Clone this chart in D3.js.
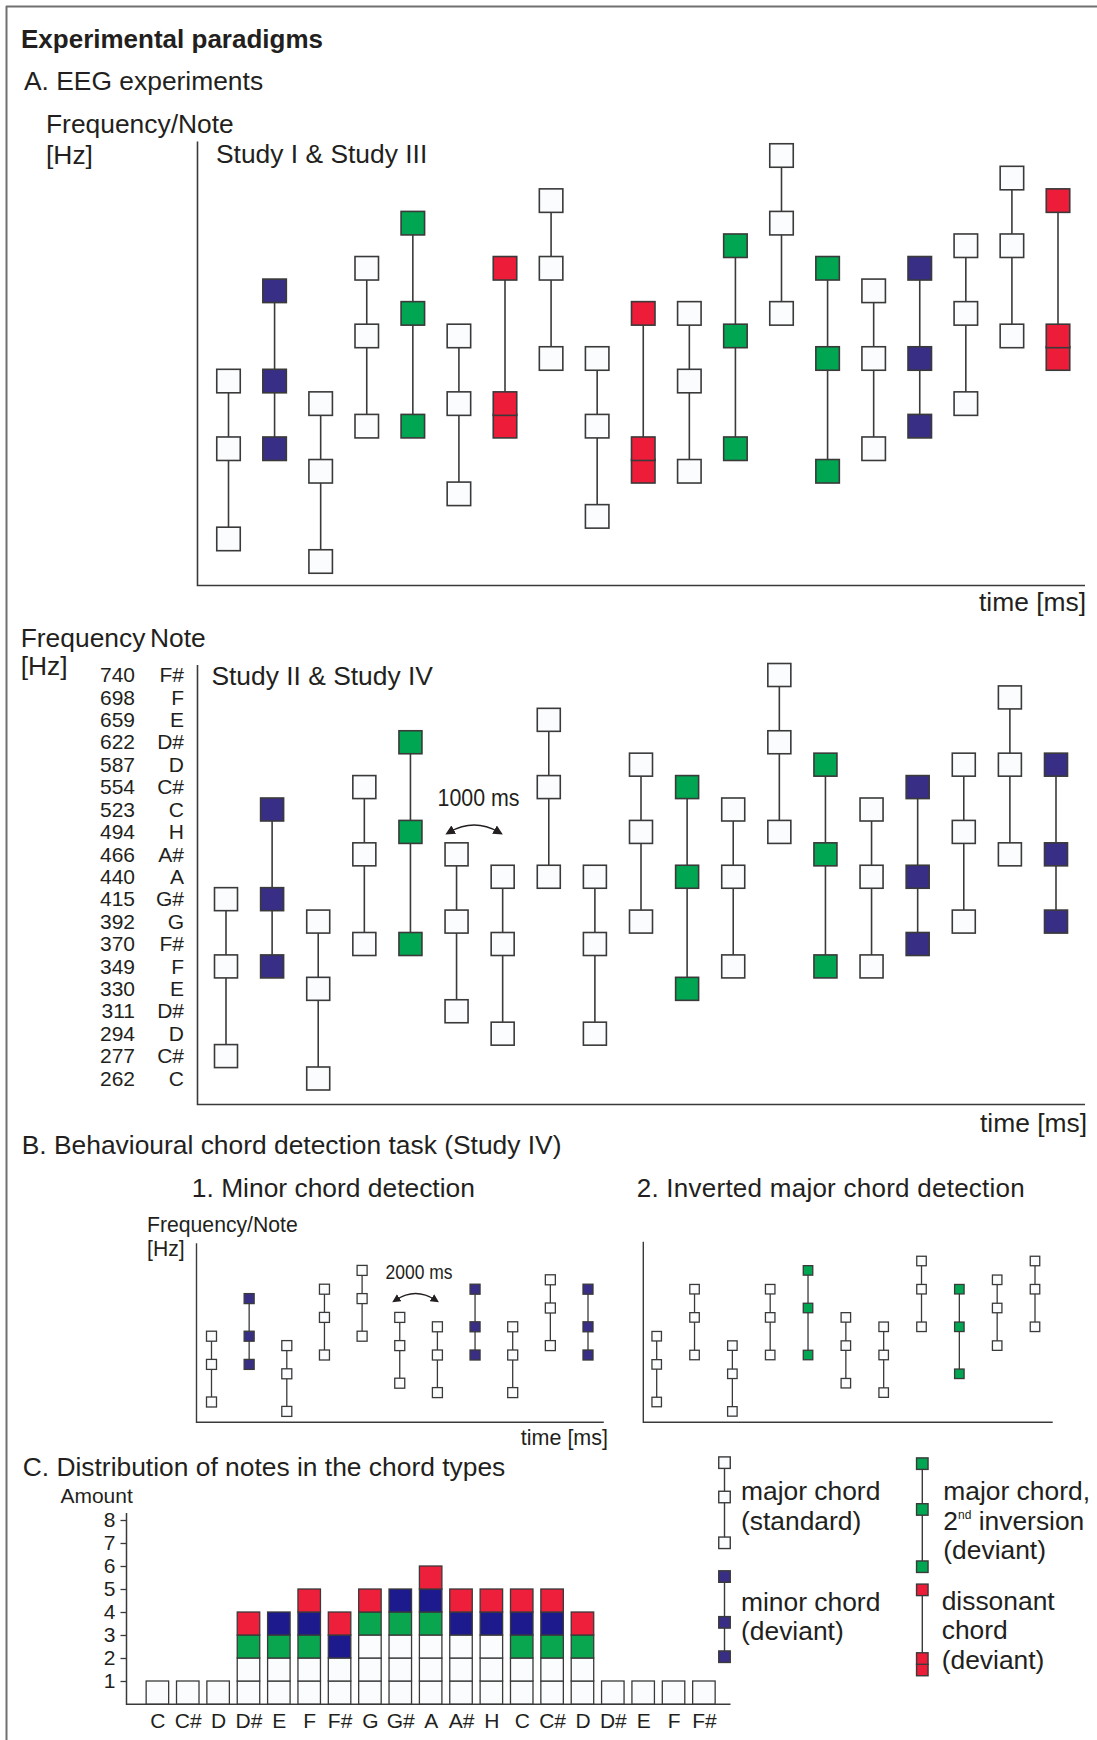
<!DOCTYPE html>
<html>
<head>
<meta charset="utf-8">
<script src="https://cdn.jsdelivr.net/npm/d3@7"></script>
<style>
  body { margin: 0; background: #fff; }
  svg text { font-family: "Liberation Sans", Arial, Helvetica, sans-serif; fill: #231f20; }
</style>
</head>
<body>
<svg id="fig" width="1097" height="1740"></svg>
<script>
// ---- pitch axis (semitone index 0 = C 262 Hz) ----
const noteNames   = ["C","C#","D","D#","E","F","F#","G","G#","A","A#","H","C","C#","D","D#","E","F","F#"];
const frequencies = [262,277,294,311,330,349,370,392,415,440,466,494,523,554,587,622,659,698,740];

// ---- chord sequences: semitone indices per chord, plus chord type ----
const studyI_notes = [[1,5,8],[5,8,12],[0,4,7],[6,10,13],[6,11,15],[3,7,10],[6,7,13],[9,13,16],[2,6,9],[4,5,11],
                      [4,8,11],[5,10,14],[11,15,18],[4,9,13],[5,9,12],[6,9,13],[7,11,14],[10,14,17],[9,10,16]];
const studyI_types = ["major","minor","major","major","inversion","major","dissonant","major","major","dissonant",
                      "major","inversion","major","inversion","major","minor","major","major","dissonant"];

const studyII_notes = [[1,5,8],[5,8,12],[0,4,7],[6,10,13],[6,11,15],[3,7,10],[2,6,9],[9,13,16],[2,6,9],[7,11,14],
                       [4,9,13],[5,9,12],[11,15,18],[5,10,14],[5,9,12],[6,9,13],[7,11,14],[10,14,17],[7,10,14]];
const studyII_types = ["major","minor","major","major","inversion","major","major","major","major","major",
                       "inversion","major","major","inversion","major","minor","major","major","minor"];

const minorTask_notes = [[1,5,8],[5,8,12],[0,4,7],[6,10,13],[8,12,15],[3,7,10],[2,6,9],[6,9,13],[2,6,9],[7,11,14],[6,9,13]];
const minorTask_types = ["major","minor","major","major","major","major","major","minor","major","major","minor"];

const invTask_notes = [[1,5,8],[6,10,13],[0,4,7],[6,10,13],[6,11,15],[3,7,10],[2,6,9],[9,13,16],[4,9,13],[7,11,14],[9,13,16]];
const invTask_types = ["major","major","major","major","inversion","major","major","major","inversion","major","major"];

// ---- distribution of notes per chord type ----
const distNotes       = ["C","C#","D","D#","E","F","F#","G","G#","A","A#","H","C","C#","D","D#","E","F","F#"];
const countMajor      = [1,1,1,2,2,2,2,3,3,3,3,3,2,2,2,1,1,1,1];
const countInversion  = [0,0,0,1,1,1,0,1,1,1,0,0,1,1,1,0,0,0,0];
const countMinor      = [0,0,0,0,1,1,1,0,1,1,1,1,1,1,0,0,0,0,0];
const countDissonant  = [0,0,0,1,0,1,1,1,0,1,1,1,1,1,1,0,0,0,0];
const amountTicks     = [1,2,3,4,5,6,7,8];

// ---- legend entries (semitone offsets within a chord) ----
const legendChords = [
  { type: "major",     notes: [0,4,7], lines: ["major chord", "(standard)"] },
  { type: "minor",     notes: [0,3,7], lines: ["minor chord", "(deviant)"] },
  { type: "inversion", notes: [0,5,9], lines: ["major chord,", "2nd inversion", "(deviant)"] },
  { type: "dissonant", notes: [0,1,7], lines: ["dissonant", "chord", "(deviant)"] }
];

const fillOf = { major: "#fafcfd", minor: "#382e86", inversion: "#00a651", dissonant: "#ed1c38" };
const barFill = { major: "#fafcfd", inversion: "#0aa64f", minor: "#1c1a8c", dissonant: "#ee1f3b" };
const ink = "#3a3a3a";
const FS = 26.4;   // body text size used across the panels

const svg = d3.select("#fig");

// outer frame (top and left rules)
svg.append("line").attr("x1", 6).attr("y1", 6.5).attr("x2", 1097).attr("y2", 6.5)
   .attr("stroke", "#707070").attr("stroke-width", 2);
svg.append("line").attr("x1", 6.5).attr("y1", 6).attr("x2", 6.5).attr("y2", 1740)
   .attr("stroke", "#707070").attr("stroke-width", 2);

function text(x, y, str, size, opts = {}) {
  const t = svg.append("text").attr("x", x).attr("y", y).attr("font-size", size).text(str);
  if (opts.weight) t.attr("font-weight", opts.weight);
  if (opts.anchor) t.attr("text-anchor", opts.anchor);
  if (opts.ls) t.attr("letter-spacing", opts.ls);
  if (opts.len) t.attr("textLength", opts.len).attr("lengthAdjust", "spacingAndGlyphs");
  return t;
}

// L-shaped axis frame
function frame(x0, yTop, yBottom, xRight, w) {
  svg.append("path")
     .attr("d", d3.line()([[x0, yTop], [x0, yBottom], [xRight, yBottom]]))
     .attr("fill", "none").attr("stroke", ink).attr("stroke-width", w);
}

// chord glyphs: vertical connector + one square per note
function drawChords(notes, types, x, y, size, lw) {
  const data = notes.map((n, i) => ({ notes: n, type: types[i], i }));
  const g = svg.append("g");
  const cg = g.selectAll("g").data(data).join("g");
  cg.append("line")
    .attr("x1", d => x(d.i)).attr("x2", d => x(d.i))
    .attr("y1", d => y(d3.min(d.notes))).attr("y2", d => y(d3.max(d.notes)))
    .attr("stroke", ink).attr("stroke-width", lw);
  cg.selectAll("rect").data(d => d.notes.map(n => ({ n, i: d.i, type: d.type }))).join("rect")
    .attr("x", d => x(d.i) - size / 2).attr("y", d => y(d.n) - size / 2)
    .attr("width", size).attr("height", size)
    .attr("fill", d => fillOf[d.type]).attr("stroke", ink).attr("stroke-width", lw);
}

// arrow markers for the inter-onset interval brackets
const defs = svg.append("defs");
defs.append("marker").attr("id", "tip").attr("viewBox", "0 0 10 10")
    .attr("refX", 5).attr("refY", 5).attr("markerWidth", 6).attr("markerHeight", 6)
    .attr("orient", "auto-start-reverse")
    .append("path").attr("d", "M0,0 L10,5 L0,10 z").attr("fill", "#231f20");

function intervalArc(xa, xb, yEnd, rise, w) {
  const xm = (xa + xb) / 2;
  svg.append("path")
     .attr("d", `M${xa},${yEnd} Q${xm},${yEnd - rise} ${xb},${yEnd}`)
     .attr("fill", "none").attr("stroke", "#231f20").attr("stroke-width", w)
     .attr("marker-start", "url(#tip)").attr("marker-end", "url(#tip)");
}

// ================= headings =================
text(21, 47.5, "Experimental paradigms", 26, { weight: "bold" });
text(24, 90, "A. EEG experiments", FS);

// ================= A1: Study I & Study III =================
text(46, 133, "Frequency/Note", FS);
text(46, 163.5, "[Hz]", FS);
text(216, 162.6, "Study I & Study III", FS);
frame(197.5, 141.6, 585.5, 1085, 1.6);
text(1086, 611, "time [ms]", FS, { anchor: "end" });

const xA1 = d3.scaleLinear().domain([0, 18]).range([228.5, 1058]);
const yA1 = d3.scaleLinear().domain([0, 18]).range([561.5, 155.5]);
drawChords(studyI_notes, studyI_types, xA1, yA1, 23.5, 1.6);

// ================= A2: Study II & Study IV =================
text(20.7, 646.5, "Frequency", FS);
text(150, 646.5, "Note", FS);
text(20.7, 674.5, "[Hz]", FS);
text(211.4, 684.6, "Study II & Study IV", FS);
frame(197.5, 665, 1104.5, 1085, 1.6);
text(1087, 1131.5, "time [ms]", FS, { anchor: "end" });

const xA2 = d3.scaleLinear().domain([0, 18]).range([226, 1056]);
const yA2 = d3.scaleLinear().domain([0, 18]).range([1078.5, 675]);

// pitch labels: frequency and note name columns
const freqAxis = d3.axisLeft(yA2).tickValues(d3.range(19)).tickFormat(i => frequencies[i]).tickSize(0).tickPadding(0);
svg.append("g").attr("transform", "translate(135,0)").call(freqAxis)
   .call(g => g.select(".domain").remove())
   .call(g => g.selectAll("text").attr("font-size", 21).attr("font-family", null).attr("fill", "#231f20"));
const noteAxis = d3.axisLeft(yA2).tickValues(d3.range(19)).tickFormat(i => noteNames[i]).tickSize(0).tickPadding(0);
svg.append("g").attr("transform", "translate(184,0)").call(noteAxis)
   .call(g => g.select(".domain").remove())
   .call(g => g.selectAll("text").attr("font-size", 21).attr("font-family", null).attr("fill", "#231f20"));

drawChords(studyII_notes, studyII_types, xA2, yA2, 23, 1.6);
text(437.5, 805.6, "1000 ms", 24, { len: 82 });
intervalArc(xA2(5) - 7, xA2(6) - 4, 832, 14, 1.6);

// ================= B: behavioural tasks =================
text(21.7, 1154, "B. Behavioural chord detection task (Study IV)", FS);
text(191.8, 1197, "1. Minor chord detection", FS);
text(636.7, 1197, "2. Inverted major chord detection", 26, { ls: 0.25 });

const yB = d3.scaleLinear().domain([0, 15]).range([1411.4, 1270.4]);

// B1
text(147, 1231.7, "Frequency/Note", 21.2);
text(147, 1256, "[Hz]", 21.2);
frame(196.5, 1243.3, 1422.3, 603.8, 1.4);
const xB1 = d3.scaleLinear().domain([0, 10]).range([211.5, 588]);
drawChords(minorTask_notes, minorTask_types, xB1, yB, 10, 1.3);
text(385.5, 1279, "2000 ms", 20, { len: 67 });
intervalArc(xB1(5) - 4, xB1(6) - 2, 1300, 13, 1.4);
text(608, 1445, "time [ms]", 21.5, { anchor: "end" });

// B2
frame(643.3, 1241.7, 1422.3, 1052.7, 1.4);
const xB2 = d3.scaleLinear().domain([0, 10]).range([656.7, 1035]);
drawChords(invTask_notes, invTask_types, xB2, yB, 9.5, 1.3);

// ================= C: distribution of notes =================
text(22.7, 1476, "C. Distribution of notes in the chord types", FS);
text(60.4, 1503, "Amount", 21);

const xC = d3.scalePoint().domain(d3.range(distNotes.length)).range([157.4, 703.9]);
const yC = d3.scaleLinear().domain([0, 8]).range([1704, 1520]);
const barW = 22.5;

frame(126.5, 1513, 1704.3, 730.5, 1.5);
const yAxisC = d3.axisLeft(yC).tickValues(amountTicks).tickSize(6).tickSizeOuter(0).tickPadding(5);
svg.append("g").attr("transform", "translate(126.5,0)").call(yAxisC)
   .call(g => g.select(".domain").remove())
   .call(g => g.selectAll("line").attr("stroke", ink).attr("stroke-width", 1.3))
   .call(g => g.selectAll("text").attr("font-size", 21).attr("font-family", null).attr("fill", "#231f20"));

const xAxisC = d3.axisBottom(xC).tickFormat(i => distNotes[i]).tickSize(0).tickPadding(9);
svg.append("g").attr("transform", "translate(0,1704.3)").call(xAxisC)
   .call(g => g.select(".domain").remove())
   .call(g => g.selectAll("text").attr("font-size", 21).attr("font-family", null).attr("fill", "#231f20"));

const stackKeys = ["major", "inversion", "minor", "dissonant"];
const rows = distNotes.map((n, i) => ({ i, major: countMajor[i], inversion: countInversion[i], minor: countMinor[i], dissonant: countDissonant[i] }));
const series = d3.stack().keys(stackKeys)(rows);

// one outlined cell per unit of count
const cells = [];
series.forEach(s => {
  s.forEach((seg, i) => {
    for (let u = seg[0]; u < seg[1]; u++) cells.push({ i, u, key: s.key });
  });
});
svg.append("g").selectAll("rect").data(cells).join("rect")
   .attr("x", d => xC(d.i) - barW / 2)
   .attr("y", d => yC(d.u + 1))
   .attr("width", barW)
   .attr("height", d => yC(d.u) - yC(d.u + 1))
   .attr("fill", d => barFill[d.key])
   .attr("stroke", ink).attr("stroke-width", 1.3);

// ================= legend =================
const legendStep = 11.45;
const legendPos = [
  { x: 724.5, bottom: 1542.8, tx: 741,   ty: [1500, 1529.5] },
  { x: 724.5, bottom: 1656.7, tx: 741,   ty: [1610.5, 1640] },
  { x: 922.3, bottom: 1566.7, tx: 943.3, ty: [1500, 1529.5, 1559] },
  { x: 922.3, bottom: 1670,   tx: 941.7, ty: [1609.5, 1639, 1668.5] }
];
legendChords.forEach((c, k) => {
  const p = legendPos[k];
  const yL = d3.scaleLinear().domain([0, 1]).range([p.bottom, p.bottom - legendStep]);
  drawChords([c.notes], [c.type], () => p.x, yL, 11.5, 1.4);
  c.lines.forEach((line, j) => {
    if (line.startsWith("2nd")) {
      const t = svg.append("text").attr("x", p.tx).attr("y", p.ty[j]).attr("font-size", FS);
      t.append("tspan").text("2");
      t.append("tspan").attr("dy", -11).attr("font-size", 12).text("nd");
      t.append("tspan").attr("dy", 11).text(" inversion");
    } else {
      text(p.tx, p.ty[j], line, FS);
    }
  });
});
</script>
</body>
</html>
